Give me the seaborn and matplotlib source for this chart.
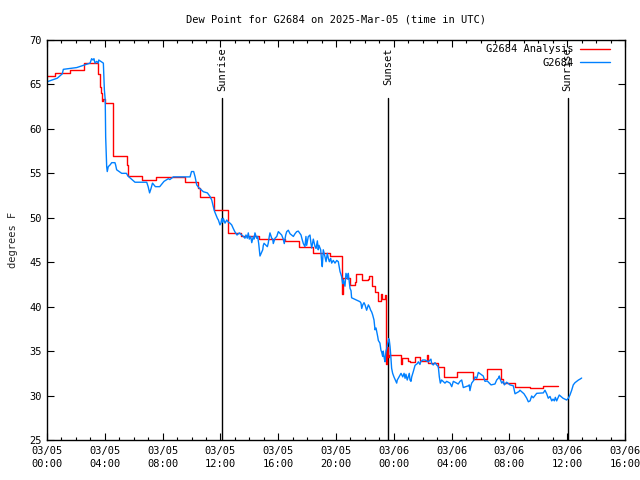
import numpy as np
import pandas as pd
import matplotlib
matplotlib.use("Agg")
import matplotlib.pyplot as plt
import matplotlib.transforms as mtransforms
import seaborn as sns

# ---------------- data ----------------
title = "Dew Point for G2684 on 2025-Mar-05 (time in UTC)"
ylabel = "degrees F"
analysis_label = "G2684 Analysis"
station_label = "G2684"

# hours since 2025-03-05 00:00 UTC
xtick_hours = [0, 4, 8, 12, 16, 20, 24, 28, 32, 36, 40]
xtick_labels = ["03/05\n00:00", "03/05\n04:00", "03/05\n08:00", "03/05\n12:00",
                "03/05\n16:00", "03/05\n20:00", "03/06\n00:00", "03/06\n04:00",
                "03/06\n08:00", "03/06\n12:00", "03/06\n16:00"]
ytick_values = [25, 30, 35, 40, 45, 50, 55, 60, 65, 70]

events_hours = [12.12, 23.6, 36.03]
events_labels = ["Sunrise", "Sunset", "Sunrise"]

analysis_hours = [0.0, 0.55, 1.6, 2.56, 3.55, 3.67, 3.75, 3.82, 3.90, 3.98, 4.55, 4.6,
                  5.51, 5.58, 6.55, 7.54, 9.54, 10.47, 10.59, 11.56, 12.53, 13.45,
                  14.7, 16.47, 17.44, 18.41, 19.58, 20.44, 20.5, 20.97, 21.3, 21.39,
                  21.78, 22.2, 22.3, 22.47, 22.7, 22.93, 23.1, 23.2, 23.37, 23.44,
                  23.48, 23.53, 23.6, 23.7, 24.47, 24.55, 25.0, 25.15, 25.5, 25.83,
                  26.28, 26.39, 27.06, 27.5, 28.4, 29.46, 30.43, 31.4, 31.54, 32.4,
                  33.44, 34.35, 35.38]
analysis_values = [66.0, 66.3, 66.6, 67.4, 66.2, 64.7, 64.0, 63.1, 63.4, 62.9, 60.0, 57.0,
                   55.9, 54.7, 54.25, 54.6, 54.0, 53.4, 52.3, 50.9, 48.25, 47.95,
                   47.6, 47.35, 46.7, 46.0, 45.7, 41.4, 43.2, 42.45, 42.8, 43.65,
                   43.0, 43.1, 43.45, 42.3, 41.7, 40.65, 41.4, 40.9, 41.3, 37.0,
                   33.5, 35.5, 34.3, 34.6, 33.5, 34.2, 33.9, 33.8, 34.3, 33.9,
                   34.6, 33.7, 33.25, 32.1, 32.7, 31.9, 33.0, 31.9, 31.4, 30.95,
                   30.8, 31.1, 31.1]

station_hours = [0.0, 0.71, 1.06, 1.13, 2.06, 2.98, 3.09, 3.18, 3.25, 3.32, 3.44, 3.55,
                 3.58, 3.9, 3.97, 4.03, 4.06, 4.13, 4.17, 4.24, 4.36, 4.48, 4.7, 4.75,
                 4.82, 5.17, 5.5, 5.6, 6.09, 6.9, 7.0, 7.1, 7.2, 7.3, 7.5, 7.8,
                 8.1, 8.4, 8.5, 8.74, 9.9, 10.0, 10.15, 10.25, 10.36, 10.5, 10.82,
                 11.1, 11.28, 11.4, 11.51, 11.6, 11.7, 11.79, 11.86, 11.97, 12.04,
                 12.09, 12.16, 12.2, 12.32, 12.44, 12.55, 12.66, 12.78, 12.89, 13.01,
                 13.15, 13.31, 13.59, 13.7, 13.77, 13.86, 13.93, 14.0, 14.1, 14.17,
                 14.28, 14.33, 14.39, 14.51, 14.58, 14.65, 14.71, 14.74, 14.93, 14.97,
                 15.02, 15.25, 15.31, 15.38, 15.43, 15.48, 15.55, 15.62, 15.66, 15.78,
                 15.9, 16.01, 16.24, 16.35, 16.42, 16.52, 16.59, 16.7, 16.82, 16.93,
                 17.05, 17.16, 17.28, 17.39, 17.58, 17.65, 17.74, 17.85, 17.92, 17.97,
                 18.08, 18.2, 18.27, 18.32, 18.43, 18.55, 18.62, 18.71, 18.77, 18.82,
                 18.94, 19.01, 19.05, 19.12, 19.24, 19.31, 19.4, 19.47, 19.54, 19.63,
                 19.7, 19.81, 19.93, 20.05, 20.16, 20.22, 20.28, 20.33, 20.39, 20.46,
                 20.51, 20.57, 20.62, 20.69, 20.81, 20.85, 20.92, 20.97, 21.04, 21.08,
                 21.66, 21.73, 21.78, 21.85, 21.94, 22.01, 22.12, 22.24, 22.31, 22.4,
                 22.47, 22.54, 22.63, 22.7, 22.77, 22.82, 22.89, 22.93, 23.04, 23.11,
                 23.16, 23.23, 23.27, 23.34, 23.39, 23.46, 23.51, 23.58, 23.65, 23.69,
                 23.74, 23.79, 23.85, 23.92, 24.01, 24.2, 24.24, 24.31, 24.5, 24.62,
                 24.71, 24.78, 24.84, 24.93, 25.0, 25.07, 25.12, 25.19, 25.24, 25.35,
                 25.47, 25.63, 25.7, 25.81, 25.86, 26.0, 26.16, 26.28, 26.39, 26.57,
                 26.62, 26.73, 26.85, 26.97, 27.08, 27.15, 27.22, 27.31, 27.54, 27.66,
                 27.89, 28.01, 28.12, 28.35, 28.46, 28.58, 28.7, 28.77, 28.81, 29.16,
                 29.22, 29.27, 29.34, 29.39, 29.55, 29.62, 29.74, 29.8, 29.85, 30.19,
                 30.24, 30.31, 30.47, 30.61, 30.73, 31.0, 31.12, 31.26, 31.3, 31.35,
                 31.47, 31.58, 31.65, 31.81, 32.04, 32.27, 32.34, 32.39, 32.66, 32.73,
                 33.01, 33.2, 33.31, 33.43, 33.54, 33.65, 33.77, 33.89, 34.35, 34.46,
                 34.58, 34.69, 34.81, 34.93, 35.02, 35.11, 35.18, 35.27, 35.38, 35.45,
                 35.57, 35.71, 35.96, 36.08, 36.19, 36.31, 36.42, 36.54, 36.66, 36.78,
                 36.89, 37.0]
station_values = [65.3, 65.7, 66.2, 66.7, 66.9, 67.4, 67.9, 67.75, 67.9, 67.4, 67.6, 67.4,
                  67.75, 67.4, 64.4, 63.25, 59.1, 55.75, 55.2, 55.75, 55.94, 56.2, 56.2, 55.94,
                  55.4, 55.0, 55.0, 54.7, 54.0, 54.0, 53.5, 52.8, 53.3, 53.9, 53.5, 53.5,
                  54.1, 54.4, 54.3, 54.6, 54.6, 55.2, 55.2, 54.6, 53.7, 53.4, 52.93,
                  52.8, 52.4, 52.0, 51.25, 50.7, 50.3, 49.94, 49.75, 49.2, 49.4,
                  49.9, 49.5, 49.94, 49.4, 49.75, 49.5, 49.4, 49.2, 48.8, 48.4,
                  48.06, 48.3, 47.9, 47.7, 48.06, 47.7, 48.3, 47.6, 47.9, 47.2,
                  47.9, 47.6, 48.3, 47.7, 47.9, 47.1, 46.2, 45.7, 46.4, 46.9,
                  47.13, 46.75, 47.13, 47.87, 48.3, 48.06, 47.7, 47.6, 47.1, 47.7,
                  47.9, 48.44, 48.06, 47.6, 47.1, 48.06, 48.44, 48.6, 48.2, 48.06,
                  47.9, 48.2, 48.44, 48.5, 48.06, 47.6, 47.1, 46.75, 47.9, 46.9,
                  47.87, 48.06, 47.1, 46.6, 47.6, 46.75, 46.56, 47.4, 46.4, 46.9,
                  46.4, 45.06, 44.5, 46.4, 45.6, 45.06, 46.0, 45.44, 45.06, 45.44,
                  44.9, 45.2, 44.9, 45.2, 45.06, 44.5, 43.94, 43.7, 43.37, 42.6,
                  43.0, 42.6, 42.3, 43.75, 43.1, 43.75, 42.8, 42.06, 41.8, 41.0,
                  40.56, 40.4, 39.8, 40.2, 40.45, 40.2, 39.6, 40.2, 40.0, 39.6,
                  39.4, 39.06, 38.5, 37.4, 37.6, 37.2, 36.6, 36.2, 35.9, 35.1,
                  34.9, 34.4, 35.0, 34.2, 33.8, 35.0, 35.3, 35.9, 36.4, 36.2,
                  35.5, 34.5, 33.06, 32.5, 32.1, 31.4, 31.75, 31.94, 32.5, 32.1,
                  32.5, 31.94, 32.4, 31.75, 32.1, 32.5, 31.75, 31.6, 32.1, 32.7,
                  33.4, 33.6, 33.8, 33.5, 33.8, 34.0, 34.0, 33.9, 33.8, 34.1,
                  33.6, 33.44, 33.7, 33.44, 33.25, 32.1, 31.4, 31.75, 31.4, 31.6,
                  31.4, 31.0, 31.6, 31.4, 31.3, 31.6, 31.75, 31.2, 30.9, 31.1,
                  31.2, 30.55, 31.1, 31.4, 31.75, 32.1, 31.94, 32.3, 32.6, 32.2,
                  31.94, 31.6, 31.64, 31.4, 31.2, 31.3, 31.75, 32.0, 32.2, 31.9,
                  31.4, 31.6, 31.2, 31.5, 31.2, 31.1, 30.6, 30.2, 30.45, 30.6,
                  30.2, 29.7, 29.3, 29.4, 29.95, 29.75, 30.0, 30.25, 30.3, 30.6,
                  30.2, 29.7, 29.9, 29.4, 29.6, 29.4, 29.8, 29.4, 29.8, 30.06,
                  29.9, 29.7, 29.5, 29.7, 30.06, 30.6, 31.2, 31.45, 31.6, 31.75,
                  31.85, 31.97]

analysis_df = pd.DataFrame({"hours": analysis_hours, "dewpoint": analysis_values})
station_df = pd.DataFrame({"hours": station_hours, "dewpoint": station_values})

# ---------------- style ----------------
sns.set_theme(style="ticks")
plt.rcParams['font.family'] = ['DejaVu Sans Mono', 'DejaVu Sans']
plt.rcParams['axes.edgecolor'] = 'black'
plt.rcParams['axes.linewidth'] = 1.0
plt.rcParams['text.color'] = 'black'

fs = 7.5
fig = plt.figure(figsize=(6.4, 4.8), dpi=100)
ax = fig.add_axes([47 / 640, 40 / 480, 578 / 640, 400 / 480])

# event lines with rotated labels
trans = mtransforms.blended_transform_factory(ax.transData, ax.transAxes)
for h, lab in zip(events_hours, events_labels):
    ax.axvline(h, ymin=0, ymax=0.855, color='black', lw=1.0, zorder=1)
    ax.text(h, 0.982, lab, transform=trans, rotation=90, ha='center', va='top',
            fontsize=fs, color='black')

sns.lineplot(data=analysis_df, x="hours", y="dewpoint", ax=ax, color='#ff0000',
             lw=1.0, drawstyle='steps-post', estimator=None, sort=False,
             label=analysis_label)
sns.lineplot(data=station_df, x="hours", y="dewpoint", ax=ax, color='#0080ff',
             lw=1.0, estimator=None, sort=False, label=station_label)

ax.set_xlim(0, 40)
ax.set_ylim(25, 70)
ax.set_xticks(xtick_hours)
ax.set_xticklabels(xtick_labels, fontsize=fs, linespacing=1.45)
ax.set_xticks(np.arange(0, 41, 1), minor=True)
ax.set_yticks(ytick_values)
ax.set_yticklabels([str(v) for v in ytick_values], fontsize=fs)
ax.tick_params(which='both', direction='in', top=True, right=True, colors='black')
ax.tick_params(which='major', length=5, width=0.8, pad=4)
ax.tick_params(which='minor', length=2.5, width=0.8)
ax.set_xlabel("")
ax.set_ylabel(ylabel, fontsize=fs, labelpad=8)
for s in ax.spines.values():
    s.set_visible(True)
    s.set_color('black')

fig.suptitle(title, fontsize=fs, y=1 - 20 / 480, x=336 / 640, va='center')

leg = ax.legend(loc='upper right', bbox_to_anchor=(0.985, 1.005), frameon=False,
                markerfirst=False, fontsize=fs, handlelength=2.9, handletextpad=0.6,
                labelspacing=0.35, borderaxespad=0.2)

fig.savefig("out.png", dpi=100)
